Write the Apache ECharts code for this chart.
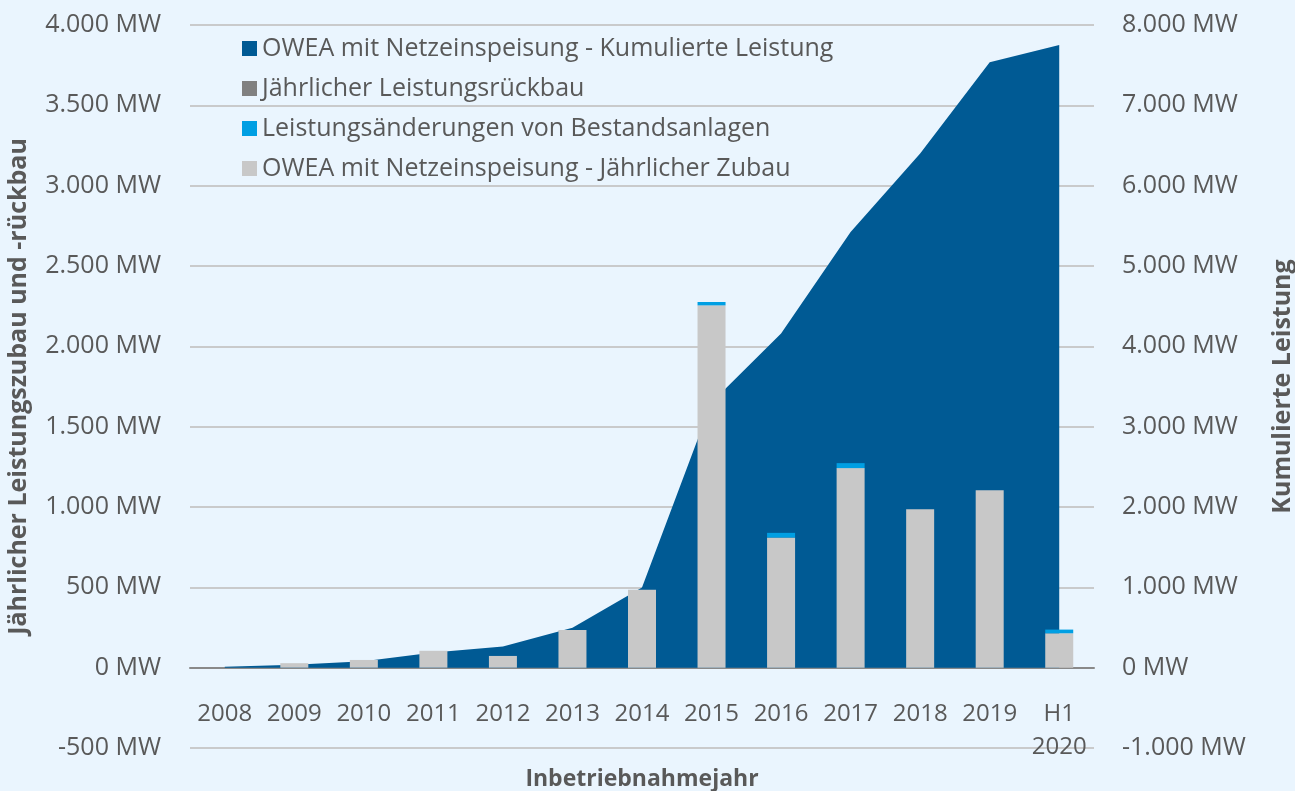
<!DOCTYPE html>
<html>
<head>
<meta charset="utf-8">
<script src="https://cdn.jsdelivr.net/npm/echarts@6/dist/echarts.min.js"></script>
<style>
  html, body { margin: 0; padding: 0; background: #EAF5FE; }
  #chart { width: 1295px; height: 791px; }
</style>
</head>
<body>
<div id="chart"></div>
<script>
var years = ['2008', '2009', '2010', '2011', '2012', '2013', '2014', '2015', '2016', '2017', '2018', '2019', 'H1\n2020'];
// Kumulierte Leistung (rechte Achse)
var kumuliert = [12, 35, 80, 190, 262, 498, 997, 3302, 4160, 5424, 6401, 7535, 7751];
// jährliche Werte (linke Achse)
var zubau = [0, 28, 48, 105, 73, 235, 485, 2255, 810, 1242, 986, 1105, 214];
var aenderungen = [0, 0, 0, 0, 0, 0, 0, 21, 29, 31, 0, 0, 23];
var rueckbau = [0, 0, 0, 0, 0, 0, 0, 0, 0, 0, 0, 0, 0];

var font = 'Open Sans';
var textColor = '#595959';

function mw(v) {
    var s = String(Math.abs(v)).replace(/\B(?=(\d{3})+(?!\d))/g, '.');
    return (v < 0 ? '-' : '') + s + ' MW';
}

var myChart = echarts.init(document.getElementById('chart'));
myChart.setOption({
    backgroundColor: '#EAF5FE',
    textStyle: { fontFamily: font },
    legend: {
        orient: 'vertical',
        left: 237,
        top: 31,
        itemWidth: 15,
        itemHeight: 15,
        itemGap: 15,
        itemTextGap: 9,
        icon: 'rect',
        textStyle: { fontFamily: font, fontSize: 25, color: textColor },
        data: ['OWEA mit Netzeinspeisung - Kumulierte Leistung', 'Jährlicher Leistungsrückbau',
               'Leistungsänderungen von Bestandsanlagen', 'OWEA mit Netzeinspeisung - Jährlicher Zubau']
    },
    grid: { left: 190, right: 201, top: 25, bottom: 43, outerBoundsMode: 'none', containLabel: false },
    xAxis: {
        type: 'category',
        data: years,
        position: 'bottom',
        offset: -80.5,
        axisLine: { onZero: false, lineStyle: { color: '#898989', width: 2 } },
        axisTick: { length: 9, lineStyle: { color: '#898989', width: 2 } },
        axisLabel: { interval: 0, color: textColor, fontSize: 24, fontFamily: font, margin: 30, lineHeight: 33 },
        name: 'Inbetriebnahmejahr',
        nameLocation: 'middle',
        nameGap: 100,
        nameTextStyle: { color: textColor, fontSize: 23, fontWeight: 'bold', fontFamily: font }
    },
    yAxis: [
        {
            type: 'value',
            min: -500, max: 4000, interval: 500,
            axisLine: { show: false },
            axisTick: { show: false },
            splitLine: { lineStyle: { color: '#C9CACB', width: 2 } },
            axisLabel: { color: textColor, fontSize: 25, fontFamily: font, margin: 29, formatter: mw },
            name: 'Jährlicher Leistungszubau und -rückbau',
            nameLocation: 'middle',
            nameRotate: 90,
            nameGap: 159,
            nameTextStyle: { color: textColor, fontSize: 25, fontWeight: 'bold', fontFamily: font }
        },
        {
            type: 'value',
            min: -1000, max: 8000, interval: 1000,
            axisLine: { show: false },
            axisTick: { show: false },
            splitLine: { show: false },
            axisLabel: { color: textColor, fontSize: 25, fontFamily: font, margin: 28, formatter: mw },
            name: 'Kumulierte Leistung',
            nameLocation: 'middle',
            nameRotate: 90,
            nameGap: 176,
            nameTextStyle: { color: textColor, fontSize: 25, fontWeight: 'bold', fontFamily: font }
        }
    ],
    series: [
        {
            name: 'OWEA mit Netzeinspeisung - Kumulierte Leistung',
            type: 'line',
            yAxisIndex: 1,
            data: kumuliert,
            symbol: 'none',
            lineStyle: { width: 0 },
            itemStyle: { color: '#005A94' },
            areaStyle: { color: '#005A94', opacity: 1 },
            z: 1
        },
        {
            name: 'Jährlicher Leistungsrückbau',
            type: 'bar',
            stack: 'jahr',
            data: rueckbau,
            barWidth: 28,
            itemStyle: { color: '#808080' },
            z: 3
        },
        {
            name: 'OWEA mit Netzeinspeisung - Jährlicher Zubau',
            type: 'bar',
            stack: 'jahr',
            data: zubau,
            barWidth: 28,
            itemStyle: { color: '#C8C8C8' },
            z: 3
        },
        {
            name: 'Leistungsänderungen von Bestandsanlagen',
            type: 'bar',
            stack: 'jahr',
            data: aenderungen,
            barWidth: 28,
            itemStyle: { color: '#009FE3' },
            z: 3
        }
    ]
}, true);
</script>
</body>
</html>
